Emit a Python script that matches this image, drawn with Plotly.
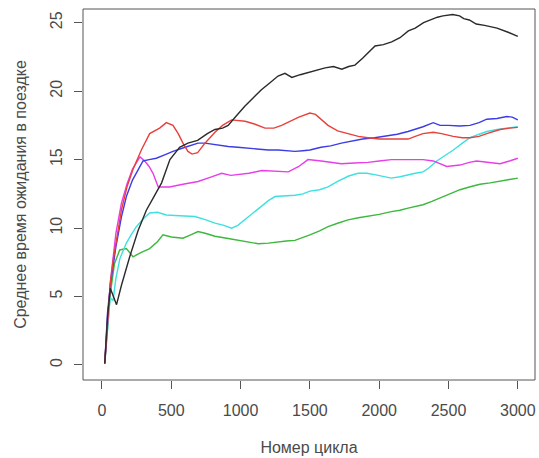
import plotly.graph_objects as go

# ---- data ----
black_x = [20, 40, 60, 80, 105, 140, 200, 260, 320, 370, 430, 490, 560, 620, 690, 760, 815, 870, 910, 970, 1030, 1090, 1150, 1210, 1270, 1320, 1370, 1430, 1500, 1560, 1610, 1670, 1730, 1780, 1825, 1880, 1940, 1970, 2030, 2090, 2150, 2210, 2260, 2320, 2370, 2420, 2460, 2530, 2580, 2610, 2650, 2700, 2760, 2850, 2930, 3000]
black_y = [0.1, 3.5, 5.6, 5.0, 4.4, 5.8, 7.9, 9.8, 11.3, 12.2, 13.3, 15.0, 15.9, 16.2, 16.4, 16.9, 17.2, 17.3, 17.5, 18.2, 18.9, 19.5, 20.1, 20.6, 21.1, 21.3, 21.0, 21.2, 21.4, 21.6, 21.7, 21.8, 21.6, 21.8, 21.9, 22.4, 23.0, 23.3, 23.4, 23.6, 23.9, 24.4, 24.6, 25.0, 25.2, 25.4, 25.5, 25.6, 25.5, 25.3, 25.2, 24.9, 24.8, 24.6, 24.3, 24.0]

red_x = [20, 40, 60, 80, 110, 140, 180, 224, 284, 344, 416, 464, 512, 550, 584, 620, 650, 690, 743, 815, 870, 935, 1032, 1100, 1176, 1240, 1296, 1360, 1420, 1500, 1540, 1631, 1700, 1775, 1850, 1919, 2000, 2088, 2150, 2208, 2260, 2316, 2390, 2450, 2534, 2600, 2655, 2720, 2776, 2872, 2940, 3000]
red_y = [0.1, 3.2, 6.0, 7.6, 9.6, 11.3, 13.0, 14.3, 15.7, 16.9, 17.3, 17.7, 17.5, 16.9, 16.2, 15.6, 15.4, 15.5, 16.2, 17.0, 17.5, 17.9, 17.8, 17.6, 17.3, 17.3, 17.5, 17.8, 18.1, 18.4, 18.3, 17.5, 17.1, 16.9, 16.7, 16.6, 16.5, 16.5, 16.5, 16.5, 16.7, 16.9, 17.0, 16.9, 16.7, 16.6, 16.6, 16.7, 16.9, 17.2, 17.3, 17.35]

blue_x = [20, 40, 60, 100, 140, 176, 220, 260, 296, 340, 392, 452, 512, 600, 693, 743, 800, 860, 911, 980, 1056, 1130, 1200, 1271, 1330, 1392, 1450, 1500, 1580, 1650, 1727, 1800, 1880, 1967, 2050, 2130, 2208, 2260, 2316, 2390, 2439, 2500, 2580, 2655, 2720, 2776, 2850, 2920, 2960, 3000]
blue_y = [0.1, 3.8, 5.8, 8.6, 10.8, 12.3, 13.5, 14.25, 14.9, 15.0, 15.1, 15.35, 15.6, 15.9, 16.2, 16.2, 16.1, 16.0, 15.96, 15.9, 15.84, 15.75, 15.7, 15.7, 15.65, 15.6, 15.65, 15.7, 15.9, 16.0, 16.2, 16.35, 16.5, 16.6, 16.7, 16.85, 17.05, 17.2, 17.4, 17.7, 17.5, 17.5, 17.45, 17.5, 17.7, 17.95, 18.0, 18.15, 18.1, 17.9]

magenta_x = [20, 40, 60, 100, 140, 180, 220, 274, 308, 340, 368, 406, 488, 584, 693, 780, 863, 930, 984, 1060, 1152, 1250, 1344, 1420, 1486, 1582, 1650, 1727, 1820, 1919, 2000, 2088, 2200, 2316, 2390, 2440, 2487, 2583, 2650, 2703, 2790, 2872, 2940, 3000]
magenta_y = [0.1, 3.5, 6.0, 9.6, 11.8, 13.2, 14.3, 15.2, 14.9, 14.5, 14.0, 13.0, 13.0, 13.2, 13.4, 13.7, 14.0, 13.85, 13.9, 14.0, 14.2, 14.15, 14.1, 14.5, 15.0, 14.9, 14.8, 14.7, 14.75, 14.8, 14.9, 15.0, 15.0, 15.0, 14.9, 14.7, 14.5, 14.6, 14.8, 14.9, 14.8, 14.7, 14.9, 15.1]

cyan_x = [20, 40, 58, 80, 100, 130, 176, 210, 248, 300, 344, 400, 464, 560, 671, 750, 815, 880, 935, 980, 1032, 1090, 1152, 1200, 1248, 1320, 1392, 1450, 1500, 1570, 1631, 1700, 1780, 1847, 1910, 1967, 2030, 2088, 2150, 2208, 2260, 2316, 2360, 2415, 2475, 2535, 2600, 2655, 2720, 2776, 2850, 2920, 3000]
cyan_y = [0.1, 2.5, 4.9, 4.7, 6.3, 7.8, 8.9, 9.5, 10.1, 10.7, 11.1, 11.15, 10.95, 10.9, 10.84, 10.6, 10.36, 10.2, 9.99, 10.2, 10.6, 11.1, 11.6, 12.0, 12.3, 12.35, 12.4, 12.5, 12.7, 12.8, 13.0, 13.4, 13.8, 14.0, 14.0, 13.9, 13.75, 13.65, 13.75, 13.9, 14.0, 14.1, 14.4, 14.9, 15.3, 15.7, 16.2, 16.6, 16.85, 17.05, 17.2, 17.3, 17.4]

green_x = [20, 40, 60, 90, 128, 176, 224, 280, 344, 400, 440, 500, 584, 640, 693, 750, 815, 900, 984, 1060, 1128, 1200, 1272, 1330, 1392, 1450, 1500, 1570, 1631, 1700, 1775, 1850, 1919, 2000, 2088, 2150, 2208, 2260, 2316, 2380, 2439, 2510, 2583, 2650, 2727, 2800, 2872, 2940, 3000]
green_y = [0.1, 2.5, 5.2, 7.4, 8.4, 8.5, 7.9, 8.2, 8.5, 9.0, 9.5, 9.35, 9.26, 9.5, 9.74, 9.6, 9.4, 9.25, 9.1, 8.95, 8.85, 8.9, 9.0, 9.05, 9.1, 9.3, 9.5, 9.8, 10.1, 10.35, 10.6, 10.75, 10.84, 11.0, 11.2, 11.3, 11.45, 11.55, 11.7, 11.95, 12.2, 12.5, 12.8, 13.0, 13.2, 13.3, 13.4, 13.55, 13.65]

x_ticks = [0, 500, 1000, 1500, 2000, 2500, 3000]
y_ticks = [0, 5, 10, 15, 20, 25]
x_title = "Номер цикла"
y_title = "Среднее время ожидания в поездке"

series = [
    (green_x, green_y, "#3cb83c"),
    (cyan_x, cyan_y, "#3fe0e0"),
    (magenta_x, magenta_y, "#e83ee8"),
    (blue_x, blue_y, "#3c3ce6"),
    (red_x, red_y, "#e8403c"),
    (black_x, black_y, "#2a2a2a"),
]

fig = go.Figure()
for xs, ys, c in series:
    fig.add_trace(go.Scatter(x=xs, y=ys, mode="lines",
                             line=dict(color=c, width=1.4),
                             showlegend=False, hoverinfo="skip"))

font = dict(family="Liberation Sans, Arial, sans-serif", size=16, color="#4a4a4a")

fig.update_layout(
    width=539, height=458,
    margin=dict(l=83, r=4, t=9, b=78, autoexpand=False),
    paper_bgcolor="white", plot_bgcolor="white",
    font=font,
    xaxis=dict(range=[-137, 3124], tickmode="array", tickvals=x_ticks,
               ticktext=[str(v) for v in x_ticks],
               ticks="outside", ticklen=8, tickcolor="#555555", tickwidth=1,
               showgrid=False, zeroline=False, showline=False,
               automargin=False, ticklabelstandoff=8,
               title=dict(text=x_title, standoff=23, font=font)),
    yaxis=dict(range=[-1.1, 26.0], tickmode="array", tickvals=y_ticks,
               ticktext=[str(v) for v in y_ticks],
               ticks="outside", ticklen=8, tickcolor="#555555", tickwidth=1,
               tickangle=-90,
               showgrid=False, zeroline=False, showline=False,
               automargin=False, ticklabelstandoff=6,
               title=dict(text=y_title, standoff=16, font=font)),
)
fig.add_shape(type="rect", xref="paper", yref="paper", x0=0, y0=0, x1=1, y1=1,
              line=dict(color="#555555", width=1))

fig.write_html("out.html", config={"displayModeBar": False},
               post_script="document.body.style.margin='0';document.body.style.overflow='hidden';")
